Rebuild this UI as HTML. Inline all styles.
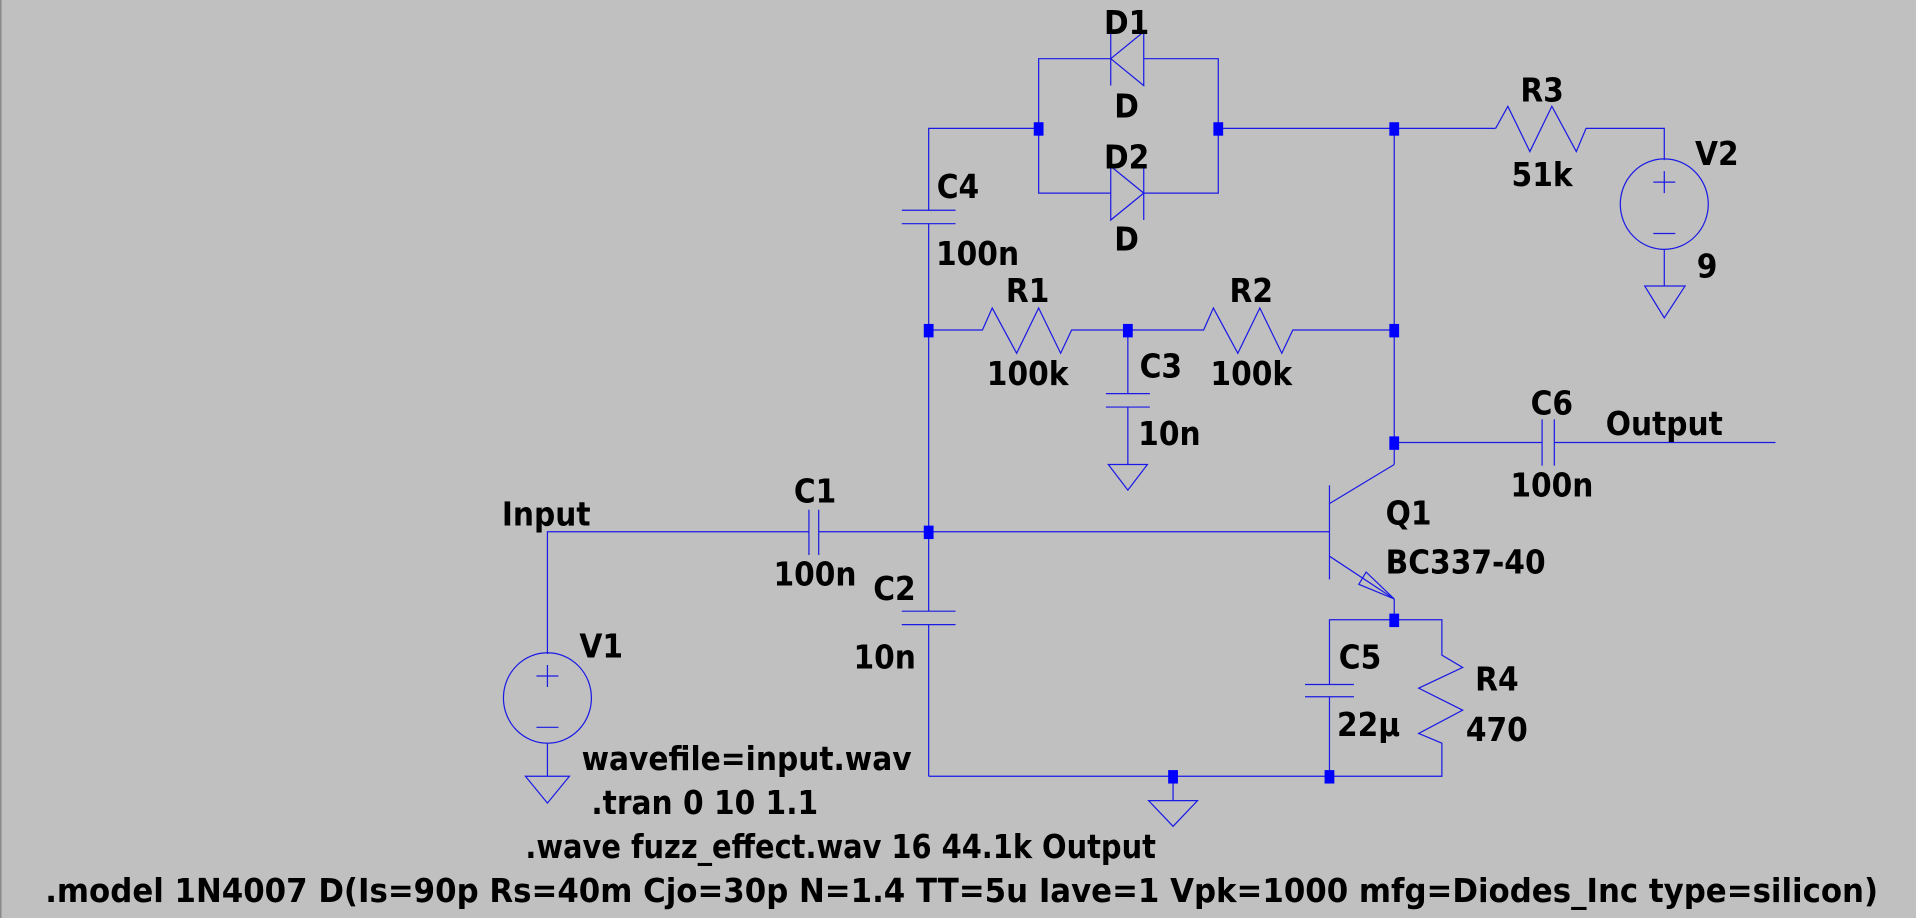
<!DOCTYPE html>
<html><head><meta charset="utf-8"><style>
html,body{margin:0;padding:0;background:#c0c0c0;overflow:hidden}
svg{display:block}
text{font-family:"DejaVu Sans Condensed","DejaVu Sans","Liberation Sans",sans-serif;font-stretch:condensed;font-weight:bold;font-size:27px;fill:#000;text-anchor:middle}
</style></head><body>
<svg width="1916" height="918" viewBox="0 0 1568 751" preserveAspectRatio="none" xmlns="http://www.w3.org/2000/svg">
<rect x="0" y="0" width="1568" height="751" fill="#c0c0c0"/>
<line x1="0.5" y1="0" x2="0.5" y2="751" stroke="#8a8a8a" stroke-width="1.5"/>
<g fill="none" stroke="#1a1ae6" stroke-width="1">
<polyline points="909,48 850,48 850,158 909,158"/>
<polyline points="936,48 997,48 997,158 936,158"/>
<line x1="909" y1="26" x2="909" y2="70"/>
<polygon points="909,48 936,26 936,70"/>
<line x1="936" y1="136" x2="936" y2="180"/>
<polygon points="936,158 909,136 909,180"/>
<polyline points="760,172 760,105 850,105"/>
<line x1="997" y1="105" x2="1224" y2="105"/>
<polyline points="1224,105 1234,87 1252,124 1270,87 1290,124 1298,105 1362,105 1362,131"/>
<ellipse cx="1362" cy="167" rx="36" ry="37"/>
<line x1="1362" y1="140" x2="1362" y2="158"/><line x1="1353" y1="149" x2="1371" y2="149"/>
<line x1="1353" y1="191" x2="1371" y2="191"/>
<polyline points="1362,204 1362,234"/>
<polygon points="1346,234 1379,234 1362,260"/>
<line x1="738" y1="172" x2="782" y2="172"/><line x1="738" y1="183" x2="782" y2="183"/>
<line x1="760" y1="183" x2="760" y2="500"/>
<line x1="760" y1="511" x2="760" y2="635"/>
<line x1="738" y1="500" x2="782" y2="500"/><line x1="738" y1="511" x2="782" y2="511"/>
<polyline points="760,270 804,270 812,252 832,289 850,252 868,289 877,270 985,270 993,252 1013,289 1031,252 1049,289 1058,270 1141,270"/>
<line x1="923" y1="270" x2="923" y2="322"/>
<line x1="905" y1="322" x2="941" y2="322"/><line x1="905" y1="333" x2="941" y2="333"/>
<line x1="923" y1="333" x2="923" y2="380"/>
<polygon points="907,380 939,380 923,401"/>
<line x1="1141" y1="105" x2="1141" y2="380"/>
<line x1="1141" y1="362" x2="1262" y2="362"/>
<line x1="1262" y1="343" x2="1262" y2="381"/><line x1="1272" y1="343" x2="1272" y2="381"/>
<line x1="1272" y1="362" x2="1453" y2="362"/>
<line x1="1088" y1="397" x2="1088" y2="474"/>
<line x1="1088" y1="412" x2="1141" y2="380"/>
<line x1="1088" y1="455" x2="1141" y2="490"/>
<polygon points="1141,490 1118,468 1112,478"/>
<line x1="1141" y1="490" x2="1141" y2="507"/>
<polyline points="448,535 448,435 662,435"/>
<line x1="670" y1="435" x2="1088" y2="435"/>
<line x1="662" y1="417" x2="662" y2="454"/><line x1="670" y1="417" x2="670" y2="454"/>
<ellipse cx="448" cy="571" rx="36" ry="37"/>
<line x1="448" y1="544" x2="448" y2="562"/><line x1="439" y1="553" x2="457" y2="553"/>
<line x1="439" y1="595" x2="457" y2="595"/>
<line x1="448" y1="608" x2="448" y2="635"/>
<polygon points="430,635 466,635 448,657"/>
<polyline points="760,635 1180,635 1180,608 1161,600 1197,581 1161,563 1197,546 1180,536 1180,507 1088,507 1088,560"/>
<line x1="1068" y1="560" x2="1108" y2="560"/><line x1="1068" y1="570" x2="1108" y2="570"/>
<line x1="1088" y1="570" x2="1088" y2="635"/>
<line x1="960" y1="635" x2="960" y2="655"/>
<polygon points="940,655 980,655 960,676"/>
</g>
<g fill="#0000ff">
<rect x="846" y="100" width="8" height="11"/><rect x="993" y="100" width="8" height="11"/><rect x="1137" y="100" width="8" height="11"/>
<rect x="756" y="265" width="8" height="11"/><rect x="919" y="265" width="8" height="11"/><rect x="1137" y="265" width="8" height="11"/>
<rect x="1137" y="357" width="8" height="11"/><rect x="756" y="430" width="8" height="11"/><rect x="1137" y="502" width="8" height="11"/>
<rect x="956" y="630" width="8" height="11"/><rect x="1084" y="630" width="8" height="11"/>
</g>
<text x="922" y="28">D1</text><text x="922" y="96">D</text>
<text x="922" y="138">D2</text><text x="922" y="205">D</text>
<text x="1262" y="83">R3</text><text x="1262" y="152">51k</text>
<text x="1405" y="135">V2</text><text x="1397" y="227">9</text>
<text x="784" y="162">C4</text><text x="800" y="217">100n</text>
<text x="841" y="247">R1</text><text x="841" y="315">100k</text>
<text x="1024" y="247">R2</text><text x="1024" y="315">100k</text>
<text x="950" y="309">C3</text><text x="957" y="364">10n</text>
<text x="1270" y="339">C6</text><text x="1270" y="406">100n</text>
<text x="1362" y="356">Output</text>
<text x="1134" y="429" style="text-anchor:start">Q1</text>
<text x="1134" y="469" style="text-anchor:start">BC337-40</text>
<text x="667" y="411">C1</text><text x="667" y="479">100n</text>
<text x="447" y="430">Input</text>
<text x="732" y="491">C2</text><text x="724" y="547">10n</text>
<text x="1113" y="547">C5</text><text x="1120" y="602">22µ</text>
<text x="1225" y="565">R4</text><text x="1225" y="606">470</text>
<text x="492" y="538">V1</text>
<text x="476" y="630" style="text-anchor:start">wavefile=input.wav</text>
<text x="484" y="666" style="text-anchor:start">.tran 0 10 1.1</text>
<text x="430" y="702" style="text-anchor:start" textLength="516" lengthAdjust="spacingAndGlyphs">.wave fuzz_effect.wav 16 44.1k Output</text>
<text x="37" y="738" style="text-anchor:start" textLength="1500" lengthAdjust="spacingAndGlyphs">.model 1N4007 D(Is=90p Rs=40m Cjo=30p N=1.4 TT=5u Iave=1 Vpk=1000 mfg=Diodes_Inc type=silicon)</text>
</svg>
</body></html>
